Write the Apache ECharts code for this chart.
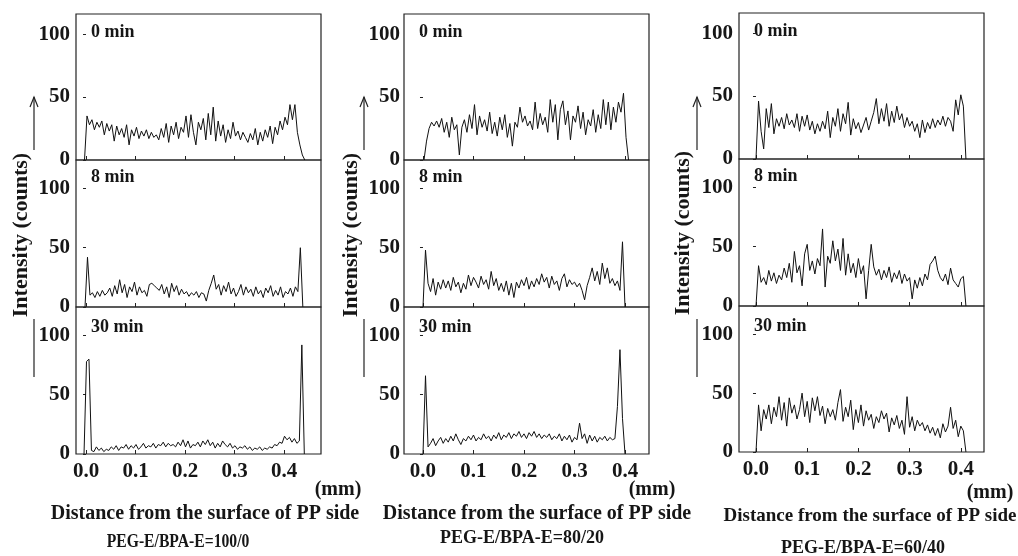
<!DOCTYPE html>
<html><head><meta charset="utf-8">
<script src="https://cdn.jsdelivr.net/npm/echarts@6/dist/echarts.min.js"></script>
<style>html,body{margin:0;padding:0;background:#fff}#c{width:1018px;height:556px}</style>
</head><body><div id="c"></div>
<script>
// ---------- data ----------
const xTicks = [0, 0.1, 0.2, 0.3, 0.4];          // mm
const yTicks = [0, 50, 100];                     // counts
const timeLabels = ['0 min', '8 min', '30 min'];
const compositions = ['PEG-E/BPA-E=100/0', 'PEG-E/BPA-E=80/20', 'PEG-E/BPA-E=60/40'];
const yTitle = 'Intensity (counts)';
const xTitle = 'Distance from the surface of PP side';
const xUnit = '(mm)';
const xStep = 0.005;                              // sampling step of the line scans (mm)
// first sampled distance (mm) of each scan: [composition][time]
const scanStart = [[-0.003, -0.002, -0.004], [0.002, 0.0, 0.0], [0.0, 0.0, 0.0]];

// PEG-E/BPA-E = 100/0
const s100_0min = [0,35,28,32,24,30,26,31,20,29, 23,28,15,27,20,25,18,28,12,24, 19,26,17,23,19,24,17,22,18,20,
  16,25,18,29,14,27,20,30,17,26, 22,35,18,36,22,12,30,24,33,16, 37,20,42,15,31,19,28,14,24,17,
  30,19,23,16,22,18,14,21,16,25, 12,22,15,24,18,27,13,26,20,31, 24,34,28,44,32,44,22,12,4,0];
const s100_8min = [0,42,10,12,8,13,9,14,10,12, 16,9,18,11,23,12,19,8,17,13, 21,10,17,12,14,9,19,20,18,16,
  14,19,11,17,8,20,13,18,10,15, 11,13,9,12,10,13,8,12,11,5, 14,20,27,15,19,10,18,13,21,11,
  16,9,13,19,10,17,12,15,9,17, 11,14,8,16,12,18,9,14,10,17, 8,13,11,16,9,17,13,50,0];
const s100_30min = [0,78,80,3,2,6,3,5,2,4, 3,6,4,7,3,6,5,8,4,7, 5,8,4,6,9,5,7,6,9,5,
  8,7,10,6,9,7,8,6,10,7, 12,6,11,5,8,7,10,6,11,8, 12,7,10,5,9,6,11,8,6,9,
  5,7,4,6,5,7,4,6,3,5, 4,6,3,5,4,6,5,8,7,10, 9,15,12,14,10,13,9,11,92,0];

// PEG-E/BPA-E = 80/20
const s80_0min = [0,15,25,30,27,31,26,33,22,30, 18,34,24,28,4,26,32,22,36,25, 44,20,35,26,32,23,38,21,30,19,
  34,24,36,18,29,11,30,26,42,30, 35,27,31,24,46,25,37,28,34,22, 48,30,44,16,40,47,28,39,16,35,
  30,43,25,38,20,32,27,40,22,36, 25,48,28,46,24,42,30,46,38,53, 18,0];
const s80_8min = [0,48,20,13,24,10,21,15,23,16, 22,14,25,17,21,12,20,15,27,18, 25,21,16,26,19,23,15,30,18,24,
  14,20,13,22,10,20,8,21,16,23, 18,25,15,22,17,24,19,28,21,25, 16,26,19,22,14,24,28,17,23,19,
  21,17,20,14,6,18,25,33,22,30, 19,37,24,33,20,24,18,22,14,55, 0];
const s80_30min = [0,66,6,9,13,7,11,14,9,13, 10,15,11,17,12,8,13,11,15,12, 16,11,14,12,17,13,15,11,16,13,
  18,12,16,14,18,13,17,15,19,14, 17,13,18,15,19,14,17,13,16,14, 17,12,15,13,17,11,15,12,16,10,
  14,12,26,13,17,9,16,11,15,10, 14,12,15,11,14,12,13,40,88,30, 0];

// PEG-E/BPA-E = 60/40
const s60_0min = [0,46,22,8,40,25,44,20,32,26, 33,24,36,27,31,25,36,22,34,26, 35,23,30,20,28,22,30,24,38,17,
  33,26,40,22,36,28,45,19,32,24, 29,21,27,33,23,30,37,48,28,40, 30,44,26,38,29,42,31,36,25,33,
  26,30,22,28,17,31,21,29,24,32, 25,31,27,34,26,33,30,22,47,35, 51,42,0];
const s60_8min = [0,34,20,24,18,30,21,28,19,26, 22,32,24,36,20,46,28,34,17,44, 52,30,38,27,40,34,65,16,42,36,
  55,38,48,30,57,26,44,28,36,24, 40,27,34,6,30,52,33,26,31,22, 30,24,33,20,28,23,30,19,27,21,
  24,6,22,15,24,17,27,22,35,38, 42,30,24,21,27,18,32,22,19,16, 23,25,0];
const s60_30min = [0,40,18,36,28,40,24,38,30,47, 27,42,22,46,33,40,28,36,50,30, 43,25,46,35,47,31,39,24,37,30,
  36,27,42,53,26,38,30,44,19,36, 25,40,22,35,27,32,20,30,25,35, 28,33,17,29,23,31,20,27,15,47,
  21,30,18,27,22,25,18,23,16,21, 14,20,12,24,17,22,38,20,27,13, 22,18,0];

const scans = [[s100_0min, s100_8min, s100_30min], [s80_0min, s80_8min, s80_30min], [s60_0min, s60_8min, s60_30min]];

// ---------- layout ----------
const colLeft = [76, 404, 739];
const colWidth = 245;
const rowTop = [[14, 160, 307], [14, 160, 307], [13, 159, 306]];
const rowHeight = [[146, 147, 147], [146, 147, 147], [146, 147, 146]];
const xRange = [[-0.0202, 0.4747], [-0.0376, 0.4475], [-0.0332, 0.4453]];
const yMaxRow = [116, 124, 124];
const yLabelMargin = [6, 4, 6];
const tagOffset = [9, 8, 11];
const FONT = '"Liberation Serif", "Times New Roman", serif';
const INK = '#161616';

const grids = [], xAxes = [], yAxes = [], series = [];
for (let c = 0; c < 3; c++) {
  for (let r = 0; r < 3; r++) {
    const k = grids.length;
    grids.push({ left: colLeft[c], width: colWidth, top: rowTop[c][r], height: rowHeight[c][r],
      show: true, borderColor: '#222', borderWidth: 1.2, backgroundColor: 'transparent' });
    xAxes.push({ type: 'value', gridIndex: k, min: xRange[c][0], max: xRange[c][1],
      axisLine: { show: false }, splitLine: { show: false },
      axisTick: { show: true, inside: true, length: 4, customValues: xTicks, lineStyle: { color: '#222', width: 1 } },
      axisLabel: { show: r === 2, customValues: xTicks,
        formatter: v => v.toFixed(1), fontFamily: FONT, fontWeight: 'bold', fontSize: 21, color: INK, margin: 7 } });
    yAxes.push({ type: 'value', gridIndex: k, min: 0, max: yMaxRow[r],
      axisLine: { show: false }, splitLine: { show: false },
      axisTick: { show: true, inside: false, length: 3, customValues: yTicks, lineStyle: { color: '#222', width: 1 } },
      axisLabel: { customValues: yTicks, fontFamily: FONT, fontWeight: 'bold', fontSize: 21,
        color: INK, margin: yLabelMargin[c] } });
    const vals = scans[c][r];
    series.push({ type: 'line', xAxisIndex: k, yAxisIndex: k, symbol: 'none', silent: true,
      lineStyle: { color: '#111', width: 1 },
      data: vals.map((v, i) => [scanStart[c][r] + i * xStep, v]) });
  }
}

// ---------- annotations ----------
const graphic = [];
for (let c = 0; c < 3; c++) {
  for (let r = 0; r < 3; r++) {
    graphic.push({ type: 'text', x: colLeft[c] + 15, y: rowTop[c][r] + tagOffset[r],
      style: { text: timeLabels[r], font: 'bold 18px ' + FONT, fill: INK, align: 'left', verticalAlign: 'top' } });
  }
}
const yTitleX = [21, 351, 683];
const yTitleY = [235, 235, 233];
const arrowX = [34, 364, 697];
for (let c = 0; c < 3; c++) {
  graphic.push({ type: 'polyline', shape: { points: [[arrowX[c], 377], [arrowX[c], 319]] }, style: { stroke: '#222', lineWidth: 1.2 } });
  graphic.push({ type: 'polyline', shape: { points: [[arrowX[c], 150], [arrowX[c], 97]] }, style: { stroke: '#222', lineWidth: 1.2 } });
  graphic.push({ type: 'polyline', shape: { points: [[arrowX[c] - 4, 107], [arrowX[c], 97], [arrowX[c] + 4, 107]] }, style: { stroke: '#222', lineWidth: 1.2, fill: null } });
  graphic.push({ type: 'text', x: yTitleX[c], y: yTitleY[c], rotation: Math.PI / 2,
    style: { text: yTitle, font: 'bold 22px ' + FONT, fill: INK, align: 'center', verticalAlign: 'middle' } });
}
const unitX = [338, 652, 990], unitY = [490, 490, 493];
const capX = [205, 537, 870], capY = [514, 514, 516], capSize = [20, 20, 19];
const pegX = [178, 522, 863], pegY = [542, 538, 548], pegScale = [0.87, 1.0, 1.0];
for (let c = 0; c < 3; c++) {
  graphic.push({ type: 'text', x: unitX[c], y: unitY[c],
    style: { text: xUnit, font: 'bold 20px ' + FONT, fill: INK, align: 'center', verticalAlign: 'middle' } });
  graphic.push({ type: 'text', x: capX[c], y: capY[c],
    style: { text: xTitle, font: 'bold ' + capSize[c] + 'px ' + FONT, fill: INK, align: 'center', verticalAlign: 'middle' } });
  graphic.push({ type: 'text', x: pegX[c], y: pegY[c], scaleX: pegScale[c],
    style: { text: compositions[c], font: 'bold 18px ' + FONT, fill: INK, align: 'center', verticalAlign: 'middle' } });
}

const chart = echarts.init(document.getElementById('c'), null, { renderer: 'canvas' });
chart.setOption({
  animation: false,
  backgroundColor: '#fff',
  grid: grids, xAxis: xAxes, yAxis: yAxes, series: series, graphic: graphic
});
</script></body></html>
